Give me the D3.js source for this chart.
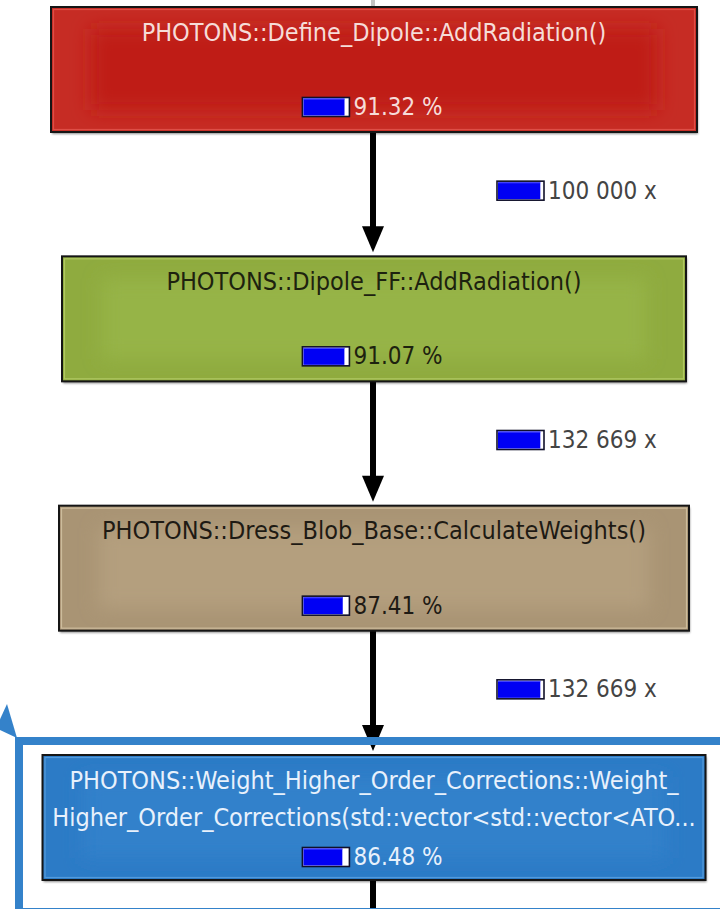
<!DOCTYPE html>
<html><head><meta charset="utf-8">
<script src="https://cdn.jsdelivr.net/npm/d3@7"></script>
<style>
html,body{margin:0;padding:0;background:#fff;}
svg{display:block;}
text{font-family:"DejaVu Sans Condensed","DejaVu Sans",sans-serif;font-stretch:condensed;}
</style></head><body>
<svg id="c" width="720" height="909"></svg>
<script>
// ---- data ----
const functionNames = [
  ["PHOTONS::Define_Dipole::AddRadiation()"],
  ["PHOTONS::Dipole_FF::AddRadiation()"],
  ["PHOTONS::Dress_Blob_Base::CalculateWeights()"],
  ["PHOTONS::Weight_Higher_Order_Corrections::Weight_",
   "Higher_Order_Corrections(std::vector<std::vector<ATO..."]
];
const percentages = [91.32, 91.07, 87.41, 86.48];
const callCounts = [100000, 132669, 132669];
const callBarShare = [94, 94, 94];

// ---- styles / layout ----
const nodeStyles = [
  {edge:"#c62c24", center:"#bf1f17", light:"#e4574f", text:"#f6dcd8"},
  {edge:"#8fab3f", center:"#96b446", light:"#b9d06c", text:"#1d220f"},
  {edge:"#a99474", center:"#b49f7e", light:"#d6c6a6", text:"#1e1a14"},
  {edge:"#2c7bc6", center:"#3081cb", light:"#5ea2e0", text:"#e8f1fc"}
];
const nodeWidths = [646, 624, 630, 663];
const nodeH = 125, cx = 374, fontSize = 24, titleSize = 25;

const svg = d3.select("#c");
const defs = svg.append("defs");
defs.append("filter").attr("id","glow").attr("x","-20%").attr("y","-50%").attr("width","140%").attr("height","200%")
  .append("feGaussianBlur").attr("stdDeviation",9);
defs.append("filter").attr("id","sh").attr("x","-5%").attr("y","-10%").attr("width","110%").attr("height","130%")
  .append("feGaussianBlur").attr("stdDeviation",1.2);

const yTop = d3.scaleLinear().domain([0, functionNames.length - 1]).range([7, 755]);
const barW = 47, barH = 19;
const barScale = d3.scaleLinear().domain([0, 100]).range([0, barW - 2]);
const fmtCalls = n => d3.format(",")(n).replace(/,/g, " ") + " x";

function drawBar(g, x, y, share) {
  g.append("rect").attr("x", x).attr("y", y).attr("width", barW).attr("height", barH)
    .attr("fill", "#ffffff").attr("stroke", "#10102a").attr("stroke-width", 1.6);
  g.append("rect").attr("x", x + 1).attr("y", y + 1).attr("width", barScale(share)).attr("height", barH - 2)
    .attr("fill", "#0000f4");
  g.append("line").attr("x1", x + 1).attr("x2", x + 1 + barScale(share)).attr("y1", y + 1.6).attr("y2", y + 1.6)
    .attr("stroke", "#4a4aff").attr("stroke-width", 1);
}

// arrows (behind nodes)
const arrowX = 373;
const arrows = svg.append("g");
arrows.append("line").attr("x1", arrowX).attr("x2", arrowX).attr("y1", -4).attr("y2", yTop(0))
  .attr("stroke", "#c4c4c4").attr("stroke-width", 4);
d3.range(functionNames.length - 1).forEach(i => {
  const y0 = yTop(i) + nodeH - 1, tip = yTop(i + 1) - 4;
  arrows.append("line").attr("x1", arrowX).attr("x2", arrowX).attr("y1", y0).attr("y2", tip - 20)
    .attr("stroke", "#000").attr("stroke-width", 6);
  arrows.append("path").attr("d", d3.line()([[arrowX - 11, tip - 26], [arrowX + 11, tip - 26], [arrowX, tip]]) + "Z")
    .attr("fill", "#000");
});
const last = functionNames.length - 1;
arrows.append("line").attr("x1", arrowX).attr("x2", arrowX).attr("y1", yTop(last) + nodeH).attr("y2", 915)
  .attr("stroke", "#000").attr("stroke-width", 6);

// nodes
functionNames.forEach((lines, i) => {
  const st = nodeStyles[i], w = nodeWidths[i], x = cx - w / 2, y = yTop(i);
  const g = svg.append("g");
  g.append("rect").attr("x", x + 1).attr("y", y + 2).attr("width", w).attr("height", nodeH)
    .attr("fill", "#000").attr("opacity", 0.45).attr("filter", "url(#sh)");
  g.append("rect").attr("x", x).attr("y", y).attr("width", w).attr("height", nodeH)
    .attr("fill", st.edge).attr("stroke", "#151515").attr("stroke-width", 2);
  g.append("rect").attr("x", x + 40).attr("y", y + 22).attr("width", w - 80).attr("height", nodeH - 44)
    .attr("fill", st.center).attr("filter", "url(#glow)");
  g.append("rect").attr("x", x + 2.5).attr("y", y + 2.5).attr("width", w - 5).attr("height", nodeH - 5)
    .attr("fill", "none").attr("stroke", st.light).attr("stroke-width", 1.2).attr("opacity", 0.8);
  lines.forEach((t, k) => {
    g.append("text").attr("x", cx).attr("y", y + 25 + k * 37).attr("text-anchor", "middle")
      .attr("dominant-baseline", "central").attr("font-size", titleSize).attr("fill", st.text).text(t);
  });
  const py = y + (lines.length > 1 ? 102 : 100);
  const pg = g.append("g");
  const txt = pg.append("text").attr("x", barW + 4).attr("y", py).attr("dominant-baseline", "central")
    .attr("font-size", fontSize).attr("fill", st.text).text(percentages[i].toFixed(2) + " %");
  drawBar(pg, 0, py - barH / 2, percentages[i]);
  const tw = barW + 4 + txt.node().getComputedTextLength();
  pg.attr("transform", `translate(${cx - 1.5 - tw / 2},0)`);
});

// edge labels
callCounts.forEach((c, i) => {
  const ym = (yTop(i) + nodeH + yTop(i + 1)) / 2 - 3.5;
  const g = svg.append("g");
  drawBar(g, 497, ym - barH / 2, callBarShare[i]);
  g.append("text").attr("x", 497 + barW + 4).attr("y", ym).attr("dominant-baseline", "central")
    .attr("font-size", fontSize).attr("fill", "#444").text(fmtCalls(c));
});

// selection highlight
svg.append("rect").attr("x", 19).attr("y", 741).attr("width", 760).attr("height", 171)
  .attr("fill", "none").attr("stroke", "#3482ca").attr("stroke-width", 8);
svg.append("path").attr("d", d3.line()([[7, 704], [17, 738], [-4, 728]]) + "Z").attr("fill", "#3482ca");
</script>
</body></html>
